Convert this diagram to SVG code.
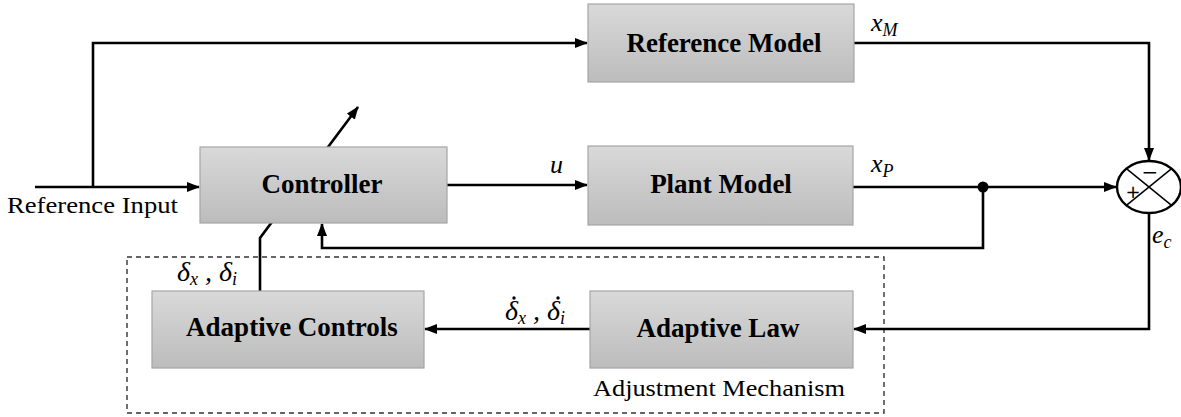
<svg xmlns="http://www.w3.org/2000/svg" width="1181" height="417" viewBox="0 0 1181 417">
  <defs>
    <linearGradient id="boxFill" x1="0" y1="0" x2="0" y2="1">
      <stop offset="0" stop-color="#d9d9d9"/>
      <stop offset="1" stop-color="#bcbcbc"/>
    </linearGradient>
    <marker id="arrow" markerUnits="userSpaceOnUse" markerWidth="13" markerHeight="10" refX="12" refY="5" orient="auto">
      <path d="M0,0 L13,5 L0,10 z" fill="#000"/>
    </marker>
  </defs>
  <style>
    .box { fill: url(#boxFill); stroke: #a6a6a6; stroke-width: 1.2; }
    .lbl { font-family: 'Liberation Serif', 'Times New Roman', serif; font-weight: bold; font-size: 27px; fill: #000; text-anchor: middle; }
    .txt { font-family: 'Liberation Serif', 'Times New Roman', serif; font-size: 23px; fill: #000; }
    .math { font-family: 'Liberation Serif', 'Times New Roman', serif; font-style: italic; font-size: 26px; fill: #000; }
    .greek { font-size: 28px; }
    .sub { font-size: 18px; }
    .wire { fill: none; stroke: #000; stroke-width: 2.6; }
    .thin { fill: none; stroke: #000; stroke-width: 1.5; }
    .dash { fill: none; stroke: #333; stroke-width: 1.4; stroke-dasharray: 5 4; }
  </style>

  <rect width="1181" height="417" fill="#fff"/>

  <!-- adjustment mechanism frame -->
  <rect class="dash" x="127" y="257" width="757" height="156"/>
  <text class="txt" x="593" y="396" textLength="252" lengthAdjust="spacingAndGlyphs">Adjustment Mechanism</text>

  <!-- connectors -->
  <g id="connectors">
    <!-- reference input to controller, branch to reference model -->
    <polyline class="wire" points="35,187 199,187" marker-end="url(#arrow)"/>
    <polyline class="wire" points="93,187 93,43 587,43" marker-end="url(#arrow)"/>
    <!-- controller to plant -->
    <polyline class="wire" points="447,185 587,185" marker-end="url(#arrow)"/>
    <!-- plant output to summing junction -->
    <polyline class="wire" points="853,187 1116,187" marker-end="url(#arrow)"/>
    <!-- reference model output to summing junction -->
    <polyline class="wire" points="854,43 1149,43 1149,160" marker-end="url(#arrow)"/>
    <!-- state feedback to controller -->
    <polyline class="wire" points="983,187 983,248 322,248 322,224" marker-end="url(#arrow)"/>
    <!-- error to adaptive law -->
    <polyline class="wire" points="1149,213 1149,329 854,329" marker-end="url(#arrow)"/>
    <!-- adaptive law to adaptive controls -->
    <polyline class="wire" points="590,329 425,329" marker-end="url(#arrow)"/>
    <!-- adjusted gains into controller (drawn through the block) -->
    <polyline class="wire" points="260,291 260,238 358,107" marker-end="url(#arrow)"/>
    <circle cx="983" cy="187" r="5.5" fill="#000"/>
  </g>

  <!-- blocks -->
  <g id="reference-model">
    <rect class="box" x="588" y="4" width="266" height="78"/>
    <text class="lbl" x="724" y="52">Reference Model</text>
  </g>
  <g id="controller">
    <rect class="box" x="200" y="147" width="247" height="76"/>
    <text class="lbl" x="322" y="193">Controller</text>
  </g>
  <g id="plant-model">
    <rect class="box" x="588" y="146" width="265" height="79"/>
    <text class="lbl" x="721" y="193">Plant Model</text>
  </g>
  <g id="adaptive-controls">
    <rect class="box" x="152" y="291" width="272" height="77"/>
    <text class="lbl" x="292" y="336">Adaptive Controls</text>
  </g>
  <g id="adaptive-law">
    <rect class="box" x="590" y="291" width="263" height="77"/>
    <text class="lbl" x="718" y="337">Adaptive Law</text>
  </g>
  <g id="summing-junction">
    <ellipse cx="1149" cy="187" rx="32" ry="26" fill="#fff" stroke="#000" stroke-width="2.4"/>
    <line class="thin" x1="1126.4" y1="168.6" x2="1171.6" y2="205.4"/>
    <line class="thin" x1="1126.4" y1="205.4" x2="1171.6" y2="168.6"/>
    <text x="1150" y="179" text-anchor="middle" font-family="DejaVu Sans, sans-serif" font-size="20">−</text>
    <text x="1133" y="198" text-anchor="middle" font-family="DejaVu Sans, sans-serif" font-size="18">+</text>
  </g>

  <!-- signal labels -->
  <text class="txt" x="7" y="213" textLength="171" lengthAdjust="spacingAndGlyphs">Reference Input</text>
  <text class="math" x="550" y="173">u</text>
  <text class="math" x="871" y="31">x<tspan class="sub" dy="5">M</tspan></text>
  <text class="math" x="871" y="172">x<tspan class="sub" dy="5">P</tspan></text>
  <text class="math" x="1152" y="243">e<tspan class="sub" dy="5">c</tspan></text>
  <text class="math greek" x="177" y="281">δ<tspan class="sub" dy="4">x</tspan><tspan dy="-4"> , δ</tspan><tspan class="sub" dy="4">i</tspan></text>
  <text class="math greek" x="505" y="320">δ<tspan class="sub" dy="4">x</tspan><tspan dy="-4"> , δ</tspan><tspan class="sub" dy="4">i</tspan></text>
  <!-- time-derivative dots -->
  <circle cx="514" cy="298" r="1.7" fill="#000"/>
  <circle cx="558" cy="298" r="1.7" fill="#000"/>
</svg>
